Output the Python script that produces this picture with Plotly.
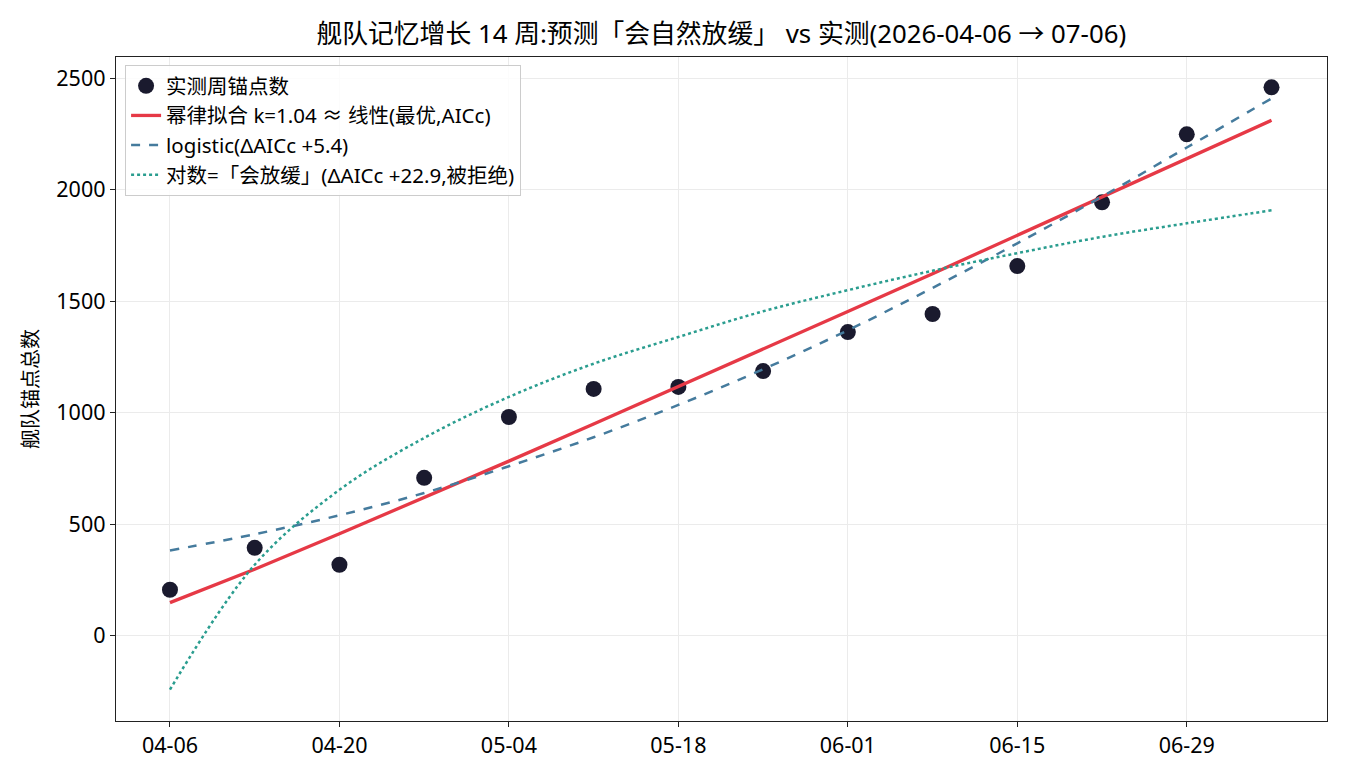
import plotly.graph_objects as go

# ---- data ----
weeks = ["2026-04-06", "2026-04-13", "2026-04-20", "2026-04-27", "2026-05-04",
         "2026-05-11", "2026-05-18", "2026-05-25", "2026-06-01", "2026-06-08",
         "2026-06-15", "2026-06-22", "2026-06-29", "2026-07-06"]
actual = [206, 394, 318, 708, 981, 1107, 1116, 1187, 1362, 1443, 1658, 1944, 2249, 2460]
power_fit = [148, 298, 457, 619, 783, 949, 1116, 1285, 1454, 1624, 1795, 1967, 2139, 2312]
logistic_fit = [382, 455, 540, 640, 760, 890, 1035, 1195, 1370, 1560, 1760, 1970, 2190, 2410]
log_fit = [-242, 318, 654, 887, 1071, 1220, 1340, 1455, 1550, 1637, 1716, 1789, 1850, 1908]

tick_vals = ["2026-04-06", "2026-04-20", "2026-05-04", "2026-05-18", "2026-06-01", "2026-06-15", "2026-06-29"]
tick_text = ["04-06", "04-20", "05-04", "05-18", "06-01", "06-15", "06-29"]
y_ticks = [0, 500, 1000, 1500, 2000, 2500]

names = ["实测周锚点数",
         "幂律拟合 k=1.04 ≈ 线性(最优,AICc)",
         "logistic(ΔAICc +5.4)",
         "对数=「会放缓」(ΔAICc +22.9,被拒绝)"]
title = "舰队记忆增长 14 周:预测「会自然放缓」 vs 实测(2026-04-06 → 07-06)"
y_title = "舰队锚点总数"

FONT = "Noto Sans, Noto Sans CJK SC, sans-serif"

fig = go.Figure()
fig.add_trace(go.Scatter(x=weeks, y=actual, mode="markers", name=names[0],
                         marker=dict(color="#1a1a2e", size=16, line=dict(width=0))))
fig.add_trace(go.Scatter(x=weeks, y=power_fit, mode="lines", name=names[1],
                         line=dict(color="#e63946", width=3.3)))
fig.add_trace(go.Scatter(x=weeks, y=logistic_fit, mode="lines", name=names[2],
                         line=dict(color="#457b9d", width=2.5, dash="dash", shape="spline")))
fig.add_trace(go.Scatter(x=weeks, y=log_fit, mode="lines", name=names[3],
                         line=dict(color="#2a9d8f", width=2.5, dash="dot", shape="spline")))

fig.update_layout(
    width=1350, height=780,
    margin=dict(l=116, r=23, t=57, b=59),
    paper_bgcolor="white", plot_bgcolor="white",
    font=dict(family=FONT, size=20, color="#000"),
    title=dict(text=title, x=0.5343, xanchor="center", y=0.956, yanchor="middle",
               font=dict(size=25.8, family=FONT, color="#000")),
    legend=dict(x=0.0075, y=0.988, xanchor="left", yanchor="top",
                bgcolor="rgba(255,255,255,0.85)", bordercolor="#cccccc", borderwidth=1,
                font=dict(size=20.5, family=FONT)),
    showlegend=True,
)
fig.update_xaxes(type="date", range=["2026-04-01 13:00", "2026-07-10 14:00"],
                 tickvals=tick_vals, ticktext=tick_text,
                 showgrid=True, gridcolor="#ebebeb", gridwidth=1,
                 showline=True, linecolor="#222", linewidth=1.4, mirror=True,
                 ticks="outside", ticklen=5, tickcolor="#222", tickwidth=1.2,
                 tickfont=dict(size=21.5), zeroline=False)
fig.update_yaxes(range=[-383, 2596], tickvals=y_ticks,
                 showgrid=True, gridcolor="#ebebeb", gridwidth=1,
                 showline=True, linecolor="#222", linewidth=1.4, mirror=True,
                 ticks="outside", ticklen=5, tickcolor="#222", tickwidth=1.2,
                 tickfont=dict(size=21.5), zeroline=False,
                 title=dict(text=y_title, font=dict(size=20), standoff=12))

fig.write_html("out.html")
